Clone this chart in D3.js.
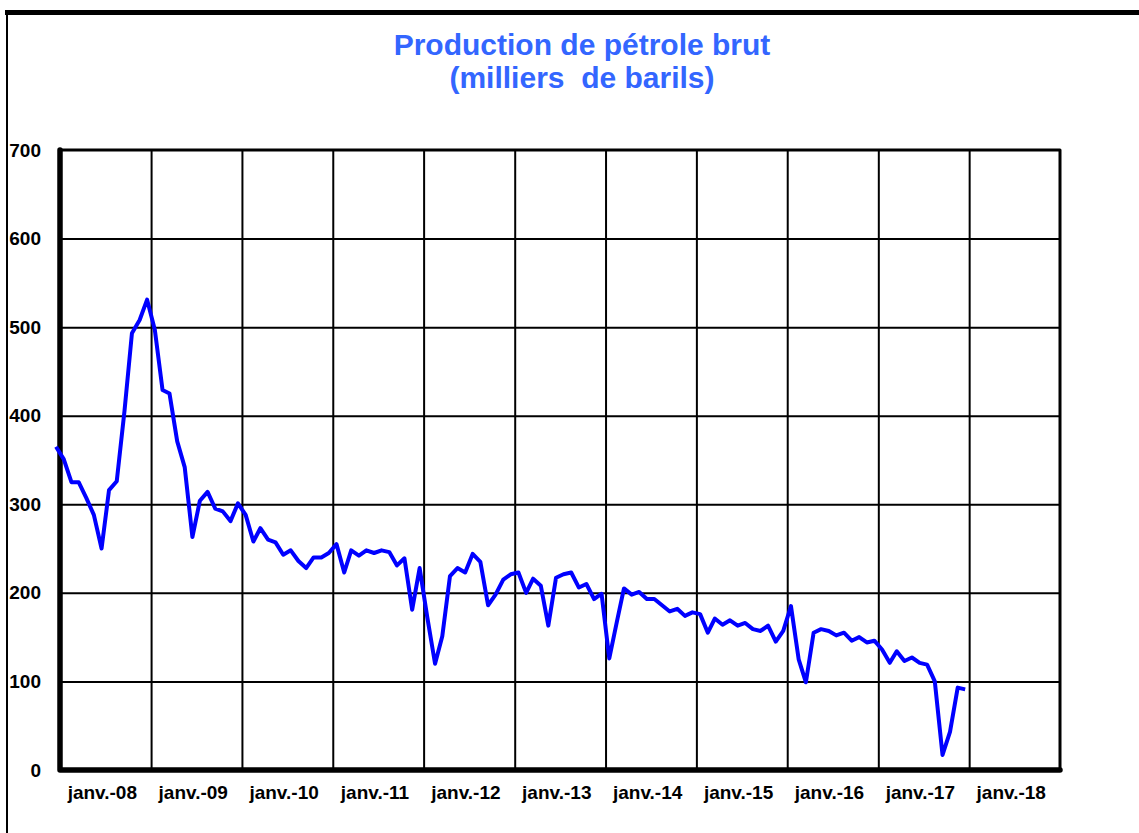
<!DOCTYPE html>
<html>
<head>
<meta charset="utf-8">
<script src="https://cdn.jsdelivr.net/npm/d3@7"></script>
<style>
    body { margin: 0; background: #fff; }
    text { font-family: Arial, "Liberation Sans", sans-serif; font-weight: bold; }
</style>
</head>
<body>
<div class="container"></div>
<script>
// monthly production, déc. 2007 -> déc. 2017
var values = [365, 351, 325, 325, 307, 288, 250, 316, 326, 405, 493, 508,
    531, 497, 429, 425, 371, 342, 263, 304, 314, 295, 292, 281,
    301, 288, 258, 273, 260, 257, 243, 248, 236, 228, 240, 240,
    245, 255, 223, 248, 242, 248, 245, 248, 246, 231, 239, 181,
    228, 172, 120, 151, 219, 228, 223, 244, 235, 186, 198, 215,
    221, 223, 200, 216, 208, 163, 217, 221, 223, 206, 210, 193,
    199, 126, 168, 205, 198, 201, 193, 193, 186, 179, 182, 174,
    178, 176, 155, 171, 164, 169, 163, 166, 159, 157, 163, 145,
    157, 185, 125, 99, 155, 159, 157, 152, 155, 146, 150, 144,
    146, 136, 121, 134, 123, 127, 121, 119, 100, 17, 43, 93,
    91];
var firstMonth = new Date(2007, 11, 1);

var years = [2008, 2009, 2010, 2011, 2012, 2013, 2014, 2015, 2016, 2017, 2018];
var yearLabels = ['janv.-08', 'janv.-09', 'janv.-10', 'janv.-11', 'janv.-12', 'janv.-13',
    'janv.-14', 'janv.-15', 'janv.-16', 'janv.-17', 'janv.-18'];
var yTicks = [0, 100, 200, 300, 400, 500, 600, 700];
var titleLines = ['Production de pétrole brut', '(milliers  de barils)'];

var drawChart = function () {

    var WIDTH = 1139;
    var HEIGHT = 833;
    var LEFT = 60, RIGHT = 1060, TOP = 150, BOTTOM = 770;

    var months = d3.timeMonth.range(firstMonth, d3.timeMonth.offset(firstMonth, values.length));
    var points = months.map(function (m, i) {
        return {date: new Date(m.getFullYear(), m.getMonth(), 16), value: values[i]};
    });

    var xScale = d3.scaleTime()
        .domain([new Date(2008, 0, 1), new Date(2019, 0, 1)])
        .range([LEFT, RIGHT]);

    var yScale = d3.scaleLinear()
        .domain([0, 700])
        .range([BOTTOM, TOP]);

    var svg = d3.select('.container')
        .append('svg')
        .attr('width', WIDTH)
        .attr('height', HEIGHT);

    svg.append('rect')
        .attr('width', WIDTH)
        .attr('height', HEIGHT)
        .attr('fill', '#fff');

    // outer frame
    svg.append('line')
        .attr('x1', 5).attr('x2', WIDTH).attr('y1', 12.5).attr('y2', 12.5)
        .attr('stroke', '#000').attr('stroke-width', 5);
    svg.append('line')
        .attr('x1', 7).attr('x2', 7).attr('y1', 10).attr('y2', HEIGHT)
        .attr('stroke', '#000').attr('stroke-width', 2);

    // title
    svg.append('g')
        .selectAll('text')
        .data(titleLines)
        .enter()
        .append('text')
        .attr('x', 582)
        .attr('y', function (d, i) { return 55 + i * 33; })
        .attr('text-anchor', 'middle')
        .attr('fill', '#3366ff')
        .attr('font-size', 30)
        .style('white-space', 'pre')
        .text(function (d) { return d; });

    // grid
    var yearStarts = years.map(function (y) { return new Date(y, 0, 1); });

    svg.append('g')
        .attr('transform', 'translate(0,' + BOTTOM + ')')
        .call(d3.axisBottom(xScale).tickValues(yearStarts.slice(1)).tickSize(-(BOTTOM - TOP)).tickFormat(''))
        .call(function (g) { g.select('.domain').remove(); })
        .selectAll('line')
        .attr('stroke', '#000')
        .attr('stroke-width', 2);

    svg.append('g')
        .attr('transform', 'translate(' + LEFT + ',0)')
        .call(d3.axisLeft(yScale).tickValues(yTicks.slice(1, -1)).tickSize(-(RIGHT - LEFT)).tickFormat(''))
        .call(function (g) { g.select('.domain').remove(); })
        .selectAll('line')
        .attr('stroke', '#000')
        .attr('stroke-width', 2);

    // plot border
    svg.append('path')
        .attr('d', 'M' + LEFT + ',' + TOP + 'H' + RIGHT + 'V' + BOTTOM)
        .attr('fill', 'none')
        .attr('stroke', '#000')
        .attr('stroke-width', 3)
        .attr('stroke-linejoin', 'round');
    svg.append('path')
        .attr('d', 'M' + LEFT + ',' + TOP + 'V' + BOTTOM + 'H' + RIGHT)
        .attr('fill', 'none')
        .attr('stroke', '#000')
        .attr('stroke-width', 5.5)
        .attr('stroke-linejoin', 'round')
        .attr('stroke-linecap', 'round');

    // y labels
    svg.append('g')
        .attr('transform', 'translate(' + LEFT + ',0)')
        .call(d3.axisLeft(yScale).tickValues(yTicks).tickSize(0).tickPadding(19))
        .call(function (g) { g.select('.domain').remove(); })
        .selectAll('text')
        .attr('font-family', null)
        .attr('font-size', 19)
        .attr('fill', '#000');

    // x labels, centred in each year
    var xLabelScale = d3.scalePoint()
        .domain(yearLabels)
        .range([xScale(new Date(2008, 5, 17)), xScale(new Date(2018, 5, 17))]);

    svg.append('g')
        .attr('transform', 'translate(0,' + BOTTOM + ')')
        .call(d3.axisBottom(xLabelScale).tickSize(0).tickPadding(16))
        .call(function (g) { g.select('.domain').remove(); })
        .selectAll('text')
        .attr('font-family', null)
        .attr('font-size', 19)
        .attr('fill', '#000');

    // series
    var line = d3.line()
        .x(function (d) { return xScale(d.date); })
        .y(function (d) { return yScale(d.value); });

    svg.append('path')
        .attr('d', line(points))
        .attr('fill', 'none')
        .attr('stroke', '#0000ff')
        .attr('stroke-width', 4)
        .attr('stroke-linejoin', 'round');
};

window.onload = drawChart;
</script>
</body>
</html>
